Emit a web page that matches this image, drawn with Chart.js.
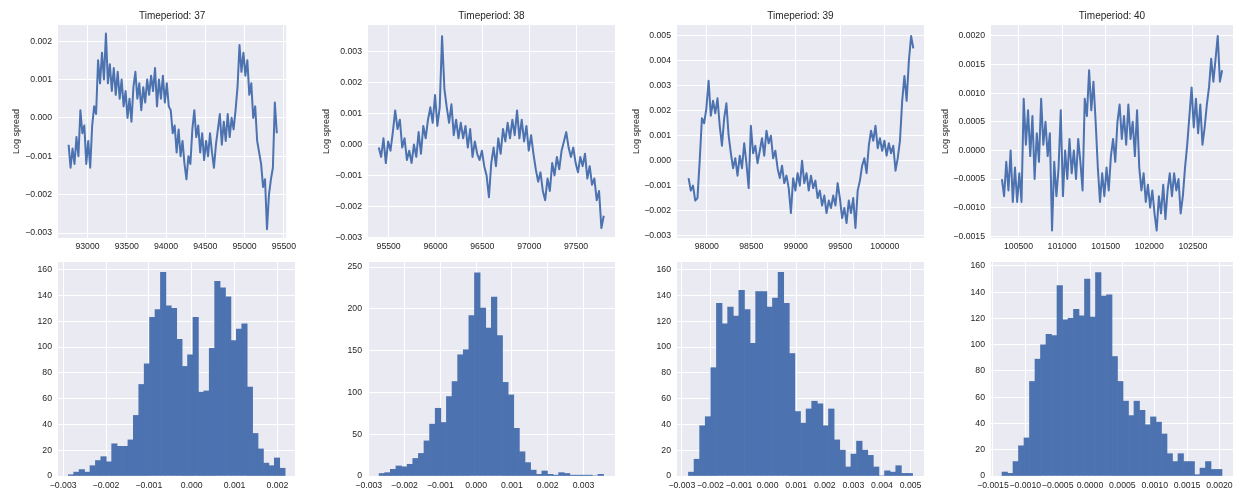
<!DOCTYPE html>
<html>
<head>
<meta charset="utf-8">
<script src="https://cdn.jsdelivr.net/npm/chart.js@4.4.1/dist/chart.umd.min.js"></script>
<style>
  html, body { margin: 0; padding: 0; background: #ffffff; }
  #wrap { position: relative; width: 1238px; height: 494px; overflow: hidden; }
  #wrap canvas { position: absolute; }
</style>
</head>
<body>
<div id="wrap"></div>
<script>
// Log spread per timeperiod (one sample every 25 ticks) and the histogram of each

const timeStep = 25;

const tp37Start = 92760;
const tp37Spread = [-7e-4,-13e-4,-8e-4,-12e-4,-5e-4,-10e-4,2e-4,-4e-4,-2e-4,-12e-4,
  -6e-4,-13e-4,-2e-4,3e-4,1e-4,15e-4,9e-4,17e-4,10e-4,22e-4,
  9e-4,14e-4,7e-4,13e-4,6e-4,12e-4,5e-4,10e-4,3e-4,7e-4,
  0,5e-4,-1e-4,8e-4,12e-4,5e-4,9e-4,2e-4,8e-4,4e-4,
  10e-4,6e-4,11e-4,7e-4,13e-4,3e-4,10e-4,5e-4,11e-4,4e-4,
  9e-4,3e-4,2e-4,-4e-4,-2e-4,-9e-4,-3e-4,-10e-4,-6e-4,-12e-4,
  -16e-4,-10e-4,-12e-4,-3e-4,2e-4,-5e-4,-2e-4,-9e-4,-4e-4,-11e-4,
  -6e-4,-10e-4,-4e-4,-9e-4,-13e-4,-7e-4,-3e-4,1e-4,-7e-4,-1e-4,
  -6e-4,1e-4,-5e-4,0,-3e-4,2e-4,8e-4,19e-4,12e-4,17e-4,
  11e-4,15e-4,6e-4,9e-4,0,3e-4,-6e-4,-9e-4,-12e-4,-18e-4,
  -16e-4,-29e-4,-20e-4,-16e-4,-13e-4,4e-4,-4e-4];

const tp38Start = 95395;
const tp38Spread = [-1e-4,-4e-4,2e-4,-6e-4,1e-4,-2e-4,4e-4,11e-4,5e-4,8e-4,
  -1e-4,2e-4,-5e-4,-2e-4,-6e-4,0,-4e-4,4e-4,-3e-4,6e-4,
  2e-4,8e-4,12e-4,7e-4,16e-4,6e-4,12e-4,35e-4,18e-4,12e-4,
  7e-4,13e-4,3e-4,8e-4,2e-4,7e-4,2e-4,6e-4,-1e-4,5e-4,
  -4e-4,1e-4,-3e-4,-5e-4,-2e-4,-7e-4,-10e-4,-17e-4,-6e-4,-1e-4,
  -7e-4,2e-4,-3e-4,5e-4,1e-4,7e-4,2e-4,8e-4,3e-4,11e-4,
  2e-4,8e-4,1e-4,6e-4,-2e-4,3e-4,-3e-4,-8e-4,-12e-4,-9e-4,
  -15e-4,-18e-4,-11e-4,-15e-4,-6e-4,-10e-4,-4e-4,-8e-4,-2e-4,1e-4,
  4e-4,-1e-4,-4e-4,-1e-4,-6e-4,-9e-4,-4e-4,-7e-4,-3e-4,-11e-4,
  -7e-4,-13e-4,-11e-4,-18e-4,-15e-4,-27e-4,-23e-4];

const tp39Start = 97795;
const tp39Spread = [-7e-4,-12e-4,-10e-4,-16e-4,-15e-4,0,17e-4,15e-4,21e-4,32e-4,
  18e-4,24e-4,19e-4,25e-4,14e-4,6e-4,17e-4,23e-4,10e-4,3e-4,
  -3e-4,1e-4,-6e-4,2e-4,-3e-4,7e-4,-1e-4,-11e-4,14e-4,3e-4,
  6e-4,-1e-4,4e-4,9e-4,2e-4,12e-4,7e-4,10e-4,1e-4,4e-4,
  -3e-4,-7e-4,-2e-4,-9e-4,-6e-4,-11e-4,-21e-4,-7e-4,-12e-4,-5e-4,
  -10e-4,0,-9e-4,-5e-4,-12e-4,-6e-4,-11e-4,-8e-4,-15e-4,-12e-4,
  -18e-4,-14e-4,-21e-4,-16e-4,-19e-4,-14e-4,-18e-4,-9e-4,-15e-4,-23e-4,
  -19e-4,-25e-4,-16e-4,-21e-4,-15e-4,-27e-4,-12e-4,-8e-4,-2e-4,1e-4,
  -5e-4,6e-4,12e-4,8e-4,14e-4,5e-4,9e-4,4e-4,8e-4,2e-4,
  7e-4,3e-4,6e-4,-4e-4,1e-4,8e-4,24e-4,34e-4,24e-4,40e-4,50e-4,45e-4];

const tp40Start = 100310;
const tp40Spread = [-5e-4,-8e-4,-2e-4,-7e-4,0,-9e-4,-3e-4,-9e-4,-4e-4,-9e-4,
  9e-4,1e-4,7e-4,-1e-4,6e-4,-5e-4,3e-4,-2e-4,9e-4,1e-4,
  5e-4,-1e-4,3e-4,-14e-4,-2e-4,-8e-4,-3e-4,7e-4,-8e-4,0,
  -5e-4,2e-4,-4e-4,0,-5e-4,2e-4,-2e-4,-7e-4,9e-4,6e-4,
  14e-4,7e-4,12e-4,5e-4,-3e-4,-9e-4,-4e-4,-8e-4,-3e-4,-7e-4,
  -1e-4,2e-4,-2e-4,5e-4,8e-4,2e-4,6e-4,1e-4,8e-4,2e-4,
  5e-4,-1e-4,7e-4,-3e-4,-7e-4,-4e-4,-9e-4,-6e-4,-10e-4,-7e-4,
  -11e-4,-14e-4,-8e-4,-11e-4,-6e-4,-12e-4,-7e-4,-4e-4,-8e-4,-4e-4,
  -7e-4,-5e-4,-11e-4,-8e-4,-3e-4,1e-4,6e-4,11e-4,4e-4,9e-4,
  3e-4,8e-4,1e-4,4e-4,8e-4,11e-4,16e-4,12e-4,16e-4,20e-4,12e-4,14e-4];

const tp37TimeTicks = [93000, 93500, 94000, 94500, 95000, 95500];
const tp38TimeTicks = [95500, 96000, 96500, 97000, 97500];
const tp39TimeTicks = [98000, 98500, 99000, 99500, 100000];
const tp40TimeTicks = [100500, 101000, 101500, 102000, 102500];

const tp37SpreadTicks = [-0.003, -0.002, -0.001, 0, 0.001, 0.002];
const tp38SpreadTicks = [-0.003, -0.002, -0.001, 0, 0.001, 0.002, 0.003];
const tp39SpreadTicks = [-0.003, -0.002, -0.001, 0, 0.001, 0.002, 0.003, 0.004, 0.005];
const tp40SpreadTicks = [-0.0015, -0.001, -0.0005, 0, 0.0005, 0.001, 0.0015, 0.002];

// histograms: 40 bins between lo and hi
const hist37Lo = -0.00288, hist37Hi = 0.00218;
const hist37Counts = [1,3,5,3,8,12,15,11,25,23,23,28,47,71,87,123,129,158,132,130,
  106,85,94,123,65,66,99,151,146,139,105,114,118,69,33,21,10,8,14,6];
const hist38Lo = -0.00271, hist38Hi = 0.00356;
const hist38Counts = [3,4,8,12,11,14,21,27,42,62,81,64,95,113,145,151,192,243,201,177,
  214,168,112,97,57,29,16,7,2,6,2,1,4,3,1,1,1,1,0,2];
const hist39Lo = -0.00277, hist39Hi = 0.00507;
const hist39Counts = [3,13,39,46,84,134,118,131,124,144,129,103,143,143,131,138,158,134,95,50,
  41,52,58,56,39,52,28,20,7,17,27,20,16,7,0,4,3,8,2,2];
const hist40Lo = -0.00136, hist40Hi = 0.00204;
const hist40Counts = [3,2,11,23,29,72,89,100,108,107,145,119,120,127,122,150,121,155,137,138,
  91,72,57,46,57,50,39,45,41,32,17,11,17,11,11,1,6,11,5,5];

const hist37CountTicks = [0, 20, 40, 60, 80, 100, 120, 140, 160];
const hist38CountTicks = [0, 50, 100, 150, 200, 250];
const hist39CountTicks = [0, 20, 40, 60, 80, 100, 120, 140, 160];
const hist40CountTicks = [0, 20, 40, 60, 80, 100, 120, 140, 160];

const INK = '#262626';
const BLUE = '#4C72B0';
const PANEL_BG = '#EAEAF2';
const AXIS_W = 58;
const X_AXIS_H = 16;
const RIGHT_PAD = 4;

Chart.defaults.font.family = '"Liberation Sans", Arial, sans-serif';

const wrap = document.getElementById('wrap');

const columns = [
    { left: 58, right: 295, ylabelGap: 41 },
    { left: 368, right: 615, ylabelGap: 41 },
    { left: 677, right: 924, ylabelGap: 40 },
    { left: 991, right: 1233, ylabelGap: 45 }
];
const rows = [
    { canvasTop: 0, top: 25, bottom: 238, tickPad: 3 },
    { canvasTop: 247, top: 262, bottom: 476, tickPad: 4 }
];

const fixed = d => v => v.toFixed(d).replace('-', '\u2212');
const plain = v => String(v);

const panelDecor = {
    id: 'panelDecor',
    beforeDraw(chart) {
        const a = chart.chartArea, ctx = chart.ctx;
        ctx.save();
        ctx.fillStyle = PANEL_BG;
        ctx.fillRect(a.left, a.top, a.right - a.left, a.bottom - a.top);
        ctx.restore();
    },
    afterDraw(chart, args, opts) {
        const a = chart.chartArea, ctx = chart.ctx;
        ctx.save();
        ctx.fillStyle = INK;
        ctx.textAlign = 'center';
        ctx.textBaseline = 'middle';
        if (opts.title) {
            ctx.font = '10px "Liberation Sans", Arial, sans-serif';
            ctx.fillText(opts.title, (a.left + a.right) / 2, a.top - 9);
        }
        if (opts.ylabel) {
            ctx.translate(a.left - opts.ylabelGap, (a.top + a.bottom) / 2);
            ctx.rotate(-Math.PI / 2);
            ctx.font = '9px "Liberation Sans", Arial, sans-serif';
            ctx.fillText(opts.ylabel, 0, 0);
        }
        ctx.restore();
    }
};

function makeAxis(min, max, ticks, fmt, isX, tickPad) {
    return {
        type: 'linear',
        min: min,
        max: max,
        bounds: 'data',
        offset: false,
        afterBuildTicks: s => { s.ticks = ticks.map(v => ({ value: v })); },
        afterFit: s => { if (isX) s.height = X_AXIS_H; else s.width = AXIS_W; },
        grid: { color: '#ffffff', lineWidth: 1, drawTicks: false, offset: false },
        border: { display: false },
        ticks: {
            color: INK,
            font: { size: 8.7 },
            padding: isX ? tickPad : 6,
            autoSkip: false,
            maxRotation: 0,
            minRotation: 0,
            callback: v => fmt(v)
        }
    };
}

function makePanel(col, row, type, dataset, xAxis, yAxis, decor) {
    const c = columns[col], r = rows[row];
    const canvas = document.createElement('canvas');
    const w = AXIS_W + (c.right - c.left) + RIGHT_PAD;
    const h = (r.bottom - r.canvasTop) + X_AXIS_H;
    canvas.width = w;
    canvas.height = h;
    canvas.style.left = (c.left - AXIS_W) + 'px';
    canvas.style.top = r.canvasTop + 'px';
    canvas.style.width = w + 'px';
    canvas.style.height = h + 'px';
    wrap.appendChild(canvas);

    return new Chart(canvas, {
        type: type,
        data: { datasets: [dataset] },
        options: {
            responsive: false,
            animation: false,
            events: [],
            layout: {
                autoPadding: false,
                padding: { top: r.top - r.canvasTop, right: RIGHT_PAD, bottom: 0, left: 0 }
            },
            plugins: {
                legend: { display: false },
                tooltip: { enabled: false },
                panelDecor: Object.assign({ ylabelGap: c.ylabelGap }, decor)
            },
            scales: { x: xAxis, y: yAxis }
        },
        plugins: [panelDecor]
    });
}

function spreadLine(start, spread) {
    return {
        data: spread.map((v, i) => ({ x: start + i * timeStep, y: v })),
        borderColor: BLUE,
        borderWidth: 2,
        borderJoinStyle: 'round',
        pointRadius: 0,
        tension: 0,
        fill: false
    };
}

function histBars(lo, hi, counts) {
    const w = (hi - lo) / counts.length;
    return {
        data: counts.map((n, i) => ({ x: lo + (i + 0.5) * w, y: n })),
        backgroundColor: BLUE,
        borderWidth: 0,
        barPercentage: 1,
        categoryPercentage: 1
    };
}

const lines = [
    { start: tp37Start, spread: tp37Spread, xt: tp37TimeTicks, yt: tp37SpreadTicks, x: [92625, 95530], y: [-0.00313, 0.00242], d: 3, title: 'Timeperiod: 37' },
    { start: tp38Start, spread: tp38Spread, xt: tp38TimeTicks, yt: tp38SpreadTicks, x: [95280, 97915], y: [-0.00302, 0.00386], d: 3, title: 'Timeperiod: 38' },
    { start: tp39Start, spread: tp39Spread, xt: tp39TimeTicks, yt: tp39SpreadTicks, x: [97665, 100440], y: [-0.0031, 0.00544], d: 3, title: 'Timeperiod: 39' },
    { start: tp40Start, spread: tp40Spread, xt: tp40TimeTicks, yt: tp40SpreadTicks, x: [100185, 102960], y: [-0.00153, 0.00219], d: 4, title: 'Timeperiod: 40' }
];

lines.forEach((p, i) => {
    makePanel(i, 0, 'line', spreadLine(p.start, p.spread),
        makeAxis(p.x[0], p.x[1], p.xt, plain, true, rows[0].tickPad),
        makeAxis(p.y[0], p.y[1], p.yt, fixed(p.d), false, 0),
        { title: p.title, ylabel: 'Log spread' });
});

const hists = [
    { lo: hist37Lo, hi: hist37Hi, counts: hist37Counts, xt: tp37SpreadTicks, yt: hist37CountTicks, x: [-0.00312, 0.00241], yMax: 166, d: 3 },
    { lo: hist38Lo, hi: hist38Hi, counts: hist38Counts, xt: tp38SpreadTicks, yt: hist38CountTicks, x: [-0.00302, 0.00388], yMax: 256, d: 3 },
    { lo: hist39Lo, hi: hist39Hi, counts: hist39Counts, xt: tp39SpreadTicks, yt: hist39CountTicks, x: [-0.00317, 0.00547], yMax: 166, d: 3 },
    { lo: hist40Lo, hi: hist40Hi, counts: hist40Counts, xt: tp40SpreadTicks, yt: hist40CountTicks, x: [-0.00153, 0.00221], yMax: 163, d: 4 }
];

hists.forEach((p, i) => {
    makePanel(i, 1, 'bar', histBars(p.lo, p.hi, p.counts),
        makeAxis(p.x[0], p.x[1], p.xt, fixed(p.d), true, rows[1].tickPad),
        makeAxis(0, p.yMax, p.yt, plain, false, 0),
        {});
});
</script>
</body>
</html>
